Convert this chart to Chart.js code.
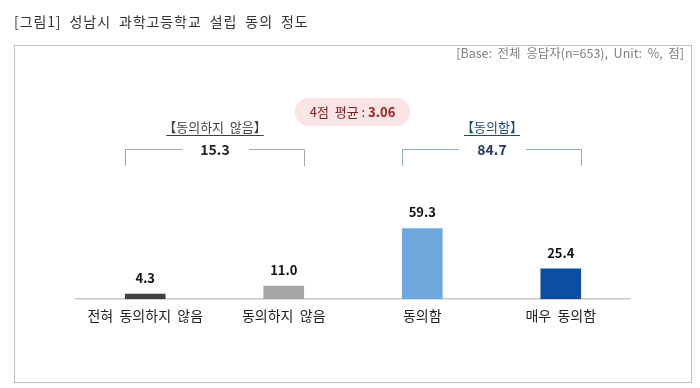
<!DOCTYPE html>
<html>
<head>
<meta charset="utf-8">
<script src="https://cdn.jsdelivr.net/npm/chart.js@4.4.0/dist/chart.umd.min.js"></script>
<style>
  html, body { margin: 0; padding: 0; background: #fff; }
  #wrap { position: relative; width: 700px; height: 388px; }
</style>
</head>
<body>
<div id="wrap"><canvas id="chart" width="700" height="388"></canvas></div>
<script>
const FONT = '"Noto Sans CJK KR", "Noto Sans", sans-serif'

const categories = ['전혀  동의하지  않음', '동의하지  않음', '동의함', '매우  동의함']
const values = [4.3, 11.0, 59.3, 25.4]
const bar_colors = ['#404040', '#a5a5a5', '#6fa8dc', '#0b4ea2']

const title_text = '[그림1]  성남시  과학고등학교  설립  동의  정도'
const base_text = '[Base:  전체  응답자(n=653),  Unit:  %,  점]'
const avg_label = '4점  평균 : '
const avg_value = '3.06'
// groups: [first bar, last bar, label, total]
const groups = [
    { from: 0, to: 1, label: '【동의하지  않음】', total: '15.3', text: '#404040', line: '#a6a6a6', totalColor: '#262626' },
    { from: 2, to: 3, label: '【동의함】', total: '84.7', text: '#1f497d', line: '#8aaed0', totalColor: '#1f3864' }
]

const extras = {
    id: 'extras',
    afterDraw(chart) {
        const ctx = chart.ctx
        const bars = chart.getDatasetMeta(0).data
        ctx.save()

        // title
        ctx.fillStyle = '#333'
        ctx.font = '14px ' + FONT
        ctx.textAlign = 'left'
        ctx.textBaseline = 'middle'
        ctx.letterSpacing = '0.9px'
        ctx.fillText(title_text, 14, 22)

        // frame
        ctx.strokeStyle = '#bdbdbd'
        ctx.lineWidth = 1
        ctx.strokeRect(14.5, 45.5, 677, 337)

        // base note
        ctx.fillStyle = '#7f7f7f'
        ctx.font = '12.5px ' + FONT
        ctx.letterSpacing = '0px'
        ctx.textAlign = 'right'
        ctx.fillText(base_text, 684, 53)

        // value labels
        ctx.fillStyle = '#111'
        ctx.font = 'bold 13px ' + FONT
        ctx.textAlign = 'center'
        bars.forEach((b, i) => {
            ctx.fillText(values[i].toFixed(1), b.x, b.y - 16)
        })

        // average pill
        const px = 295, py = 98, pw = 115, ph = 28, r = 14
        ctx.fillStyle = '#fbe4e4'
        ctx.beginPath()
        ctx.roundRect(px, py, pw, ph, r)
        ctx.fill()
        ctx.font = '13px ' + FONT
        const w1 = ctx.measureText(avg_label).width
        ctx.font = 'bold 13px ' + FONT
        const w2 = ctx.measureText(avg_value).width
        let tx = px + pw / 2 - (w1 + w2) / 2
        ctx.textAlign = 'left'
        ctx.font = '13px ' + FONT
        ctx.fillStyle = '#7b2020'
        ctx.fillText(avg_label, tx, py + ph / 2)
        ctx.font = 'bold 13px ' + FONT
        ctx.fillStyle = '#9c1a1a'
        ctx.fillText(avg_value, tx + w1, py + ph / 2)

        // brackets
        groups.forEach(g => {
            const a = bars[g.from], z = bars[g.to]
            const x1 = Math.round(a.x - a.width / 2) + 0.5
            const x2 = Math.round(z.x + z.width / 2) + 0.5
            const cx = (x1 + x2) / 2
            const yTop = 149.5, yBot = 166
            ctx.strokeStyle = g.line
            ctx.lineWidth = 1
            ctx.beginPath()
            ctx.moveTo(x1, yBot)
            ctx.lineTo(x1, yTop)
            ctx.lineTo(cx - 33, yTop)
            ctx.moveTo(cx + 34, yTop)
            ctx.lineTo(x2, yTop)
            ctx.lineTo(x2, yBot)
            ctx.stroke()

            ctx.textAlign = 'center'
            ctx.font = 'bold 14px ' + FONT
            ctx.fillStyle = g.totalColor
            ctx.fillText(g.total, cx, yTop)

            ctx.font = '13px ' + FONT
            ctx.fillStyle = g.text
            ctx.fillText(g.label, cx, 127)
            const lw = ctx.measureText(g.label).width
            ctx.strokeStyle = g.text
            ctx.beginPath()
            ctx.moveTo(cx - lw / 2 + 3, 135.5)
            ctx.lineTo(cx + lw / 2 - 3, 135.5)
            ctx.stroke()
        })
        ctx.restore()
    }
}

const config = {
    type: 'bar',
    data: {
        labels: categories,
        datasets: [{
            data: values,
            backgroundColor: bar_colors,
            borderWidth: 0,
            barThickness: 40,
        }]
    },
    options: {
        responsive: false,
        animation: false,
        layout: {
            padding: { top: 180, left: 76, right: 70, bottom: 56 }
        },
        plugins: {
            legend: { display: false },
            tooltip: { enabled: false },
            title: { display: false }
        },
        scales: {
            x: {
                grid: { display: false, drawTicks: false },
                border: { display: true, color: '#c8c8c8', width: 1.5 },
                ticks: {
                    color: '#222',
                    padding: 8,
                    font: { family: FONT, size: 14 }
                }
            },
            y: {
                display: false,
                min: 0,
                max: 100
            }
        }
    },
    plugins: [extras]
}

let myChart = new Chart(document.getElementById('chart'), config)
</script>
</body>
</html>
